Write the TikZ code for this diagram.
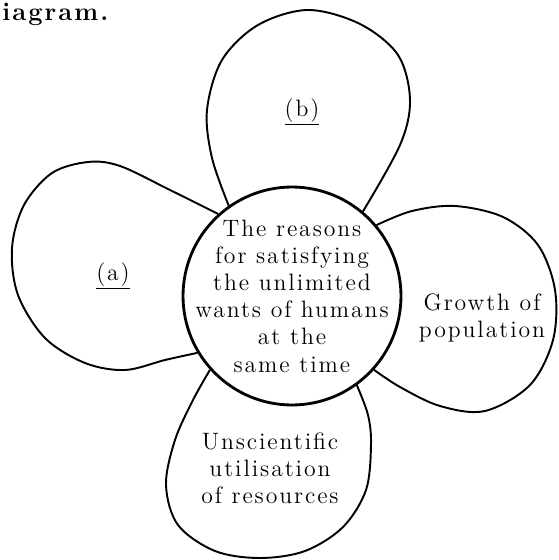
\documentclass[tikz,border=0pt]{standalone}
\usepackage{fontspec}
\setmainfont{Latin Modern Roman}[LetterSpace=8]
\usepackage{tikz}
\usetikzlibrary{positioning}

\begin{document}
\begin{tikzpicture}[
  x=0.02cm, y=-0.02cm,
  hub/.style={circle,draw,line width=1.6pt,minimum size=4.36cm,inner sep=0pt},
  petal/.style={line width=1.1pt,smooth,tension=0.55},
  lab/.style={align=center,inner sep=0pt,font=\fontsize{13.5}{15.5}\selectfont}
]
\useasboundingbox (0,0) rectangle (558,560);

% ===================== heading =====================
\node[anchor=base west,inner sep=0pt,font=\bfseries\fontsize{14.5}{16}\selectfont] (head) at (2,21) {iagram.};

% ===================== centre circle =====================
\node[hub] (hub) at (292,296) {};
\node[lab] (why) at (hub) {The reasons\\for satisfying\\the unlimited\\wants of humans\\at the\\same time};

% ===================== petals =====================
% top
\draw[petal] plot coordinates {(hub.125) (212,158) (207,110) (222,60) (258,25) (308,10)
  (360,24) (398,55) (410,100) (400,145) (hub.50)};
% left
\draw[petal] plot coordinates {(hub.132) (170,190) (120,166) (88,162) (52,173) (24,205)
  (12,248) (18,295) (45,338) (85,363) (125,370) (165,360) (hub.211)};
% right
\draw[petal] plot coordinates {(hub.40) (412,211) (455,206) (503,217) (538,245) (555,290)
  (553,340) (530,385) (485,411) (440,406) (400,387) (hub.318)};
% bottom
\draw[petal] plot coordinates {(hub.222) (193,400) (175,440) (166,485) (178,525) (215,551)
  (260,558) (305,551) (343,527) (366,490) (371,445) (368,415) (hub.306)};

% ===================== petal texts =====================
\node[lab] (pa) at (113,276) {\underline{(a)}};
\node[lab] (pb) at (302,112) {\underline{(b)}};
\node[lab] (pop) at (482,318) {Growth of\\population};
\node[lab] (res) at (270,468) {Unscientific\\utilisation\\of resources};

\end{tikzpicture}
\end{document}
